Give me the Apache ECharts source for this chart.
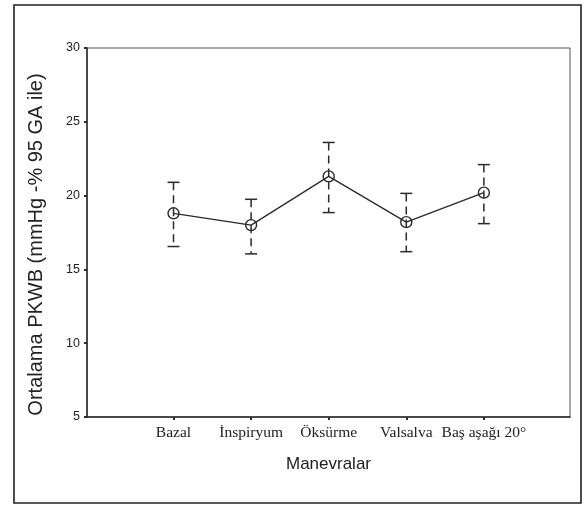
<!DOCTYPE html>
<html>
<head>
<meta charset="utf-8">
<script src="https://cdn.jsdelivr.net/npm/echarts@6/dist/echarts.min.js"></script>
<style>html,body{margin:0;padding:0;background:#fff}#c{width:585px;height:506px}</style>
</head>
<body>
<div id="c"></div>
<script>
const categories = ['Bazal', 'İnspiryum', 'Öksürme', 'Valsalva', 'Baş aşağı 20°'];
const means = [18.8, 18.0, 21.3, 18.2, 20.2];
const upper = [20.9, 19.75, 23.6, 20.15, 22.1];
const lower = [16.55, 16.05, 18.85, 16.2, 18.1];
const yTicks = [5, 10, 15, 20, 25, 30];

const idx = categories.map((_, i) => i);
const lineData = means.map((m, i) => [i, m]);
const errData = idx.map(i => [i, lower[i], upper[i]]);
const ink = '#2a2a2a';

const chart = echarts.init(document.getElementById('c'), null, {renderer: 'canvas'});
chart.setOption({
  animation: false,
  backgroundColor: '#fff',
  graphic: [{
    type: 'rect', shape: {x: 14, y: 5, width: 567, height: 498},
    style: {fill: 'none', stroke: '#222', lineWidth: 1.6}, silent: true, z: -1
  }],
  grid: {left: 87, right: 15, top: 48, bottom: 89, show: true, borderColor: '#555', borderWidth: 1, backgroundColor: 'transparent'},
  xAxis: {
    type: 'value', min: -1.115, max: 5.11,
    name: 'Manevralar', nameLocation: 'middle', nameGap: 39,
    nameTextStyle: {fontFamily: 'Liberation Sans', fontSize: 17, color: '#222'},
    axisLine: {show: true, onZero: false, lineStyle: {color: ink, width: 1.5}},
    axisTick: {show: true, customValues: idx, length: 3, lineStyle: {color: ink, width: 2}},
    axisLabel: {customValues: idx, margin: 8, fontFamily: 'Liberation Serif', fontSize: 15.5, color: '#222',
      formatter: v => categories[Math.round(v)]},
    splitLine: {show: false}
  },
  yAxis: {
    type: 'value', min: yTicks[0], max: yTicks[yTicks.length - 1], interval: 5,
    name: 'Ortalama PKWB (mmHg -% 95 GA ile)', nameLocation: 'middle', nameGap: 41,
    nameTextStyle: {fontFamily: 'Liberation Sans', fontSize: 20, color: '#222', padding: [0, 24, 0, 0]},
    axisLine: {show: true, onZero: false, lineStyle: {color: ink, width: 1.5}},
    axisTick: {show: true, length: 3, lineStyle: {color: ink, width: 2}},
    axisLabel: {margin: 7, fontFamily: 'Liberation Sans', fontSize: 12.5, color: '#222'},
    splitLine: {show: false}
  },
  series: [
    {
      type: 'custom',
      data: errData,
      z: 3,
      renderItem: function (params, api) {
        const x = api.value(0);
        const lo = api.coord([x, api.value(1)]);
        const hi = api.coord([x, api.value(2)]);
        const hw = 6;
        const st = {stroke: ink, lineWidth: 1.5};
        return {
          type: 'group',
          children: [
            {type: 'line', shape: {x1: hi[0], y1: hi[1], x2: lo[0], y2: lo[1]}, style: Object.assign({lineDash: [8, 5]}, st)},
            {type: 'line', shape: {x1: hi[0] - hw, y1: hi[1], x2: hi[0] + hw, y2: hi[1]}, style: st},
            {type: 'line', shape: {x1: lo[0] - hw, y1: lo[1], x2: lo[0] + hw, y2: lo[1]}, style: st}
          ]
        };
      }
    },
    {
      type: 'line',
      data: lineData,
      z: 4,
      symbol: 'circle', symbolSize: 11,
      lineStyle: {color: ink, width: 1.3},
      itemStyle: {color: 'rgba(255,255,255,0)', borderColor: ink, borderWidth: 1.4}
    }
  ]
});
</script>
</body>
</html>
